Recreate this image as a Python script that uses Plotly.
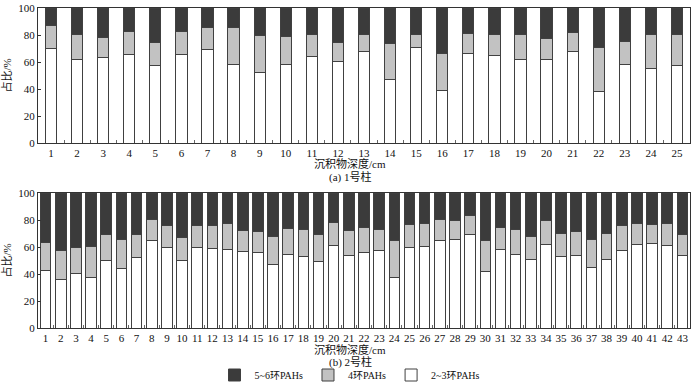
import plotly.graph_objects as go
from plotly.subplots import make_subplots

# Core 1 (1号柱)
depth1 = [str(i) for i in range(1, 26)]
low1 = [70.3, 61.8, 63.7, 65.2, 57.6, 65.2, 69.6, 57.8, 52.5, 57.8, 64.2, 60.5, 67.6,
        47.1, 71.1, 39.0, 66.4, 64.7, 61.8, 61.8, 68.1, 38.5, 57.8, 54.9, 57.4]
cum4_1 = [87.3, 80.6, 77.9, 82.8, 74.5, 82.4, 85.3, 85.3, 79.9, 78.9, 80.1, 74.5, 80.6,
          74.0, 80.1, 66.4, 81.4, 80.1, 80.1, 77.7, 81.6, 70.6, 75.5, 80.1, 80.1]

# Core 2 (2号柱)
depth2 = [str(i) for i in range(1, 44)]
low2 = [42.6, 36.0, 40.2, 37.3, 50.2, 44.1, 52.0, 64.5, 60.0, 49.8, 60.0, 59.1, 57.8,
        56.9, 55.6, 47.3, 54.4, 52.9, 49.5, 61.0, 53.8, 56.1, 57.4, 37.3, 59.8, 60.5,
        65.0, 65.2, 69.1, 42.2, 58.3, 54.7, 50.5, 61.5, 53.2, 53.9, 45.1, 50.7, 57.4,
        61.8, 62.3, 61.0, 53.8]
cum4_2 = [63.7, 57.6, 60.0, 60.3, 69.6, 65.7, 69.6, 80.4, 76.0, 66.9, 76.0, 76.2, 77.7,
          72.3, 71.8, 68.1, 74.0, 73.0, 69.1, 77.9, 72.5, 74.5, 73.0, 64.5, 77.0, 77.2,
          80.6, 79.7, 83.6, 65.0, 74.5, 73.0, 67.9, 79.7, 70.1, 71.8, 65.2, 70.1, 76.0,
          77.2, 77.0, 77.2, 68.9]

names = ["2~3环PAHs", "4环PAHs", "5~6环PAHs"]
colors = ["#ffffff", "#c2c2c2", "#3b3b3b"]
yticks = [0, 20, 40, 60, 80, 100]

def parts(low, cum4):
    ring4 = [round(c - l, 1) for l, c in zip(low, cum4)]
    ring56 = [round(100 - c, 1) for c in cum4]
    return [low, ring4, ring56]

fig = make_subplots(rows=2, cols=1, vertical_spacing=0.1)

for row, (cats, low, cum4, w) in enumerate(
        [(depth1, low1, cum4_1, 0.43), (depth2, low2, cum4_2, 0.7)], start=1):
    for name, col, vals in zip(names, colors, parts(low, cum4)):
        fig.add_trace(go.Bar(x=cats, y=vals, name=name, width=w,
                             marker=dict(color=col, line=dict(color="#404040", width=1)),
                             showlegend=(row == 1)), row=row, col=1)

# plot area pixel geometry: top panel 8..143, bottom panel 193..328
T, B = 8, 328
H = B - T
font = dict(family="Liberation Serif, Noto Sans CJK SC", size=11, color="#111")
fig.update_layout(
    barmode="stack", width=700, height=386,
    margin=dict(l=38, r=10, t=T, b=386 - B, autoexpand=False),
    paper_bgcolor="white", plot_bgcolor="white",
    font=font,
    legend=dict(orientation="h", x=0.5, xref="container", xanchor="center",
                y=1 - 375 / 386, yref="container", yanchor="middle",
                traceorder="reversed", font=dict(size=10), itemwidth=30),
)
fig.update_layout(yaxis=dict(domain=[(B - 143) / H, 1.0]),
                  yaxis2=dict(domain=[0.0, (B - 193) / H]))
fig.update_xaxes(type="category", tickson="boundaries", ticks="inside", ticklen=3,
                 tickcolor="#666", showline=True, linecolor="#333", mirror=True,
                 showgrid=False, tickfont=dict(size=11), tickangle=0, automargin=False)
fig.update_yaxes(range=[0, 100], tickvals=yticks, ticks="inside", ticklen=3,
                 tickcolor="#333", showline=True, linecolor="#333", mirror=True,
                 showgrid=False, zeroline=False, tickfont=dict(size=11), automargin=False,
                 title=dict(text="占比/%", standoff=4, font=dict(size=11)))

xc = 350
for text, ypx in [("沉积物深度/cm", 163), ("(a) 1号柱", 177),
                  ("沉积物深度/cm", 349), ("(b) 2号柱", 362)]:
    fig.add_annotation(text=text, x=(xc - 38) / 652, y=(B - ypx) / H,
                       xref="paper", yref="paper",
                       showarrow=False, xanchor="center", yanchor="middle",
                       font=dict(size=11))

fig.write_html("out.html", config={"displayModeBar": False},
               post_script="document.body.style.margin='0';")
